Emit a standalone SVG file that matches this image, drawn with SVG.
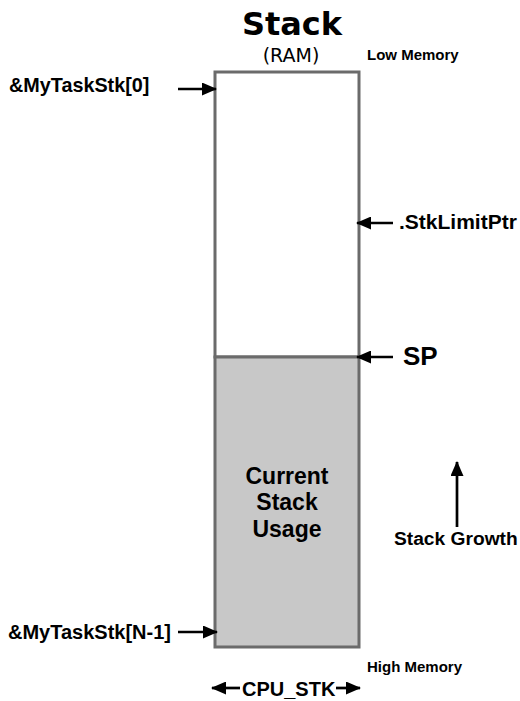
<svg xmlns="http://www.w3.org/2000/svg" width="520" height="701" viewBox="0 0 520 701">
<style>
.lbl{font-family:"Liberation Sans",Arial,sans-serif;font-weight:bold;fill:#000}
.ln{stroke:#000;stroke-width:2.7;fill:none}
</style>
<defs>
<marker id="ah" viewBox="0 0 15 13" refX="14" refY="6.5" markerWidth="15" markerHeight="13" orient="auto" markerUnits="userSpaceOnUse">
<path d="M0,0 L15,6.5 L0,13 z" fill="#000"/>
</marker>
</defs>
<rect width="520" height="701" fill="#fff"/>
<g id="title">
<text x="292" y="35" text-anchor="middle" font-family="DejaVu Sans,Verdana,sans-serif" font-weight="bold" font-size="32">Stack</text>
<text x="291" y="62" text-anchor="middle" font-family="DejaVu Sans,Verdana,sans-serif" font-size="19">(RAM)</text>
</g>
<g id="stack">
<rect x="215" y="72" width="144" height="285" fill="#fff" stroke="#6b6b6b" stroke-width="3"/>
<rect x="215" y="357" width="144" height="290" fill="#c8c8c8" stroke="#6b6b6b" stroke-width="3"/>
<text class="lbl" font-size="23" text-anchor="middle"><tspan x="287" y="484">Current</tspan><tspan x="287" y="510">Stack</tspan><tspan x="287" y="537">Usage</tspan></text>
</g>
<g id="labels">
<text class="lbl" x="367" y="60" font-size="15">Low Memory</text>
<text class="lbl" x="367" y="672" font-size="15">High Memory</text>
<text class="lbl" x="9" y="92" font-size="19.8">&amp;MyTaskStk[0]</text>
<text class="lbl" x="8" y="639" font-size="20">&amp;MyTaskStk[N-1]</text>
<text class="lbl" x="399" y="229" font-size="21">.StkLimitPtr</text>
<text class="lbl" x="403" y="365" font-size="26">SP</text>
<text class="lbl" x="394" y="545" font-size="19.2">Stack Growth</text>
<text class="lbl" x="242" y="696" font-size="20">CPU_STK</text>
</g>
<g id="connectors">
<line class="ln" x1="178" y1="89" x2="216" y2="89" marker-end="url(#ah)"/>
<line class="ln" x1="178" y1="632" x2="217" y2="632" marker-end="url(#ah)"/>
<line class="ln" x1="393" y1="223" x2="357" y2="223" marker-end="url(#ah)"/>
<line class="ln" x1="393" y1="357" x2="357" y2="357" marker-end="url(#ah)"/>
<line class="ln" x1="457" y1="527" x2="457" y2="462" marker-end="url(#ah)"/>
<line class="ln" x1="240" y1="688" x2="212" y2="688" marker-end="url(#ah)"/>
<line class="ln" x1="336" y1="688" x2="360" y2="688" marker-end="url(#ah)"/>
</g>
</svg>
